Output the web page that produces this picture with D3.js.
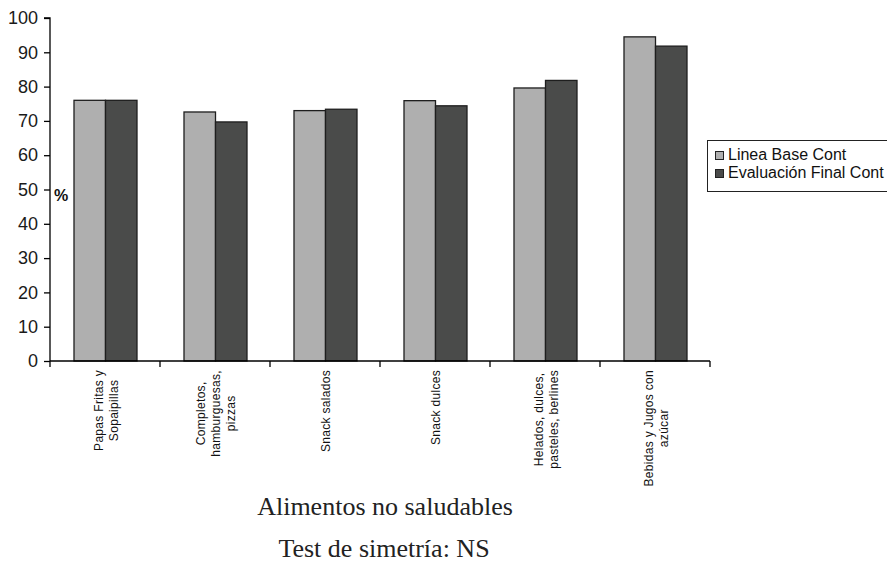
<!DOCTYPE html>
<html><head><meta charset="utf-8">
<script src="https://cdn.jsdelivr.net/npm/d3@7"></script>
<style>
html,body{margin:0;padding:0;background:#fff;}
svg{display:block;}
</style></head>
<body>
<svg id="chart" width="887" height="564"></svg>
<script>
const categories = [
  ["Papas Fritas y", "Sopaipillas"],
  ["Completos,", "hamburguesas,", "pizzas"],
  ["Snack salados"],
  ["Snack dulces"],
  ["Helados, dulces,", "pasteles, berlines"],
  ["Bebidas y Jugos con", "azúcar"]
];
const seriesNames = ["Linea Base Cont", "Evaluación Final Cont"];
const lineaBase = [76.0, 72.6, 73.0, 75.9, 79.6, 94.5];
const evaluacionFinal = [76.0, 69.7, 73.4, 74.4, 81.8, 91.8];
const yTicks = [0, 10, 20, 30, 40, 50, 60, 70, 80, 90, 100];
const colors = ["#afafaf", "#4a4b4a"];
const xTitle = "Alimentos no saludables";
const subTitle = "Test de simetría: NS";
const yLabel = "%";

const svg = d3.select("#chart");
const catKeys = categories.map((c, i) => i);
const x0 = d3.scaleBand().domain(catKeys).range([50, 710]).paddingInner(0).paddingOuter(0);
const x1 = d3.scaleBand().domain([0, 1]).range([24, 87]);
const y = d3.scaleLinear().domain([0, 100]).range([361, 18]);

const values = [lineaBase, evaluacionFinal];
const data = catKeys.map(i => ({i, vals: values.map((v, s) => ({s, v: v[i]}))}));

// bars
const g = svg.append("g");
g.selectAll("g.cat").data(data).join("g")
  .attr("class", "cat")
  .attr("transform", d => `translate(${x0(d.i)},0)`)
  .selectAll("rect").data(d => d.vals).join("rect")
  .attr("x", d => x1(d.s))
  .attr("width", x1.bandwidth())
  .attr("y", d => y(d.v))
  .attr("height", d => y(0) - y(d.v))
  .attr("fill", d => colors[d.s])
  .attr("stroke", "#1e1e1e")
  .attr("stroke-width", 1.3);

// y axis
const yAxis = svg.append("g").attr("transform", "translate(50,0)")
  .call(d3.axisLeft(y).tickValues(yTicks).tickSize(6).tickPadding(6).tickFormat(d3.format("d")));
yAxis.select(".domain").attr("stroke", "#000").attr("stroke-width", 1.3).attr("d", `M-6,${y(100)}H0V${y(0)}`);
yAxis.selectAll(".tick line").attr("stroke", "#000").attr("stroke-width", 1.3);
yAxis.selectAll(".tick text").attr("font-family", "Liberation Sans, Arial, sans-serif")
  .attr("font-size", 18).attr("fill", "#1a1a1a");

// x axis
const xAxisG = svg.append("g").attr("transform", `translate(0,${y(0)})`);
xAxisG.append("line").attr("x1", 50).attr("x2", 710).attr("y1", 0).attr("y2", 0)
  .attr("stroke", "#000").attr("stroke-width", 1.3);
const bounds = catKeys.map(i => x0(i)).concat([x0(catKeys.length - 1) + x0.bandwidth()]);
xAxisG.selectAll("line.tk").data(bounds).join("line").attr("class", "tk")
  .attr("x1", d => d).attr("x2", d => d).attr("y1", 0).attr("y2", 6)
  .attr("stroke", "#000").attr("stroke-width", 1.3);

// x labels (rotated)
const lineH = 15;
data.forEach(d => {
  const lines = categories[d.i];
  const cx = x0(d.i) + x0.bandwidth() / 2 + 1;
  const lg = svg.append("g");
  const texts = lines.map((t, k) => lg.append("text")
    .attr("font-family", "Liberation Sans, Arial, sans-serif")
    .attr("font-size", 12)
    .attr("letter-spacing", 0.3)
    .attr("fill", "#111")
    .attr("text-anchor", "middle")
    .attr("dominant-baseline", "central")
    .text(t));
  const maxLen = d3.max(texts, t => t.node().getComputedTextLength());
  const cy = 370 + maxLen / 2;
  texts.forEach((t, k) => {
    const xx = cx + (k - (lines.length - 1) / 2) * lineH;
    t.attr("transform", `translate(${xx},${cy}) rotate(-90)`);
  });
});

// % label
svg.append("text").attr("x", 54).attr("y", 201)
  .attr("font-family", "Liberation Sans, Arial, sans-serif").attr("font-size", 16)
  .attr("font-weight", "bold").attr("fill", "#111").text(yLabel);

// legend
const leg = svg.append("g");
leg.append("rect").attr("x", 707.5).attr("y", 140.5).attr("width", 200).attr("height", 51)
  .attr("fill", "#fff").attr("stroke", "#222").attr("stroke-width", 1);
seriesNames.forEach((n, s) => {
  leg.append("rect").attr("x", 715.5).attr("y", 151.5 + s * 18).attr("width", 8).attr("height", 8)
    .attr("fill", colors[s]).attr("stroke", "#222").attr("stroke-width", 1);
  leg.append("text").attr("x", 728).attr("y", 159.5 + s * 18)
    .attr("font-family", "Liberation Sans, Arial, sans-serif").attr("font-size", 16)
    .attr("fill", "#111").text(n);
});

// titles
svg.append("text").attr("x", 385).attr("y", 515).attr("text-anchor", "middle")
  .attr("font-family", "Liberation Serif, Times New Roman, serif").attr("font-size", 26)
  .attr("fill", "#222").text(xTitle);
svg.append("text").attr("x", 384).attr("y", 557).attr("text-anchor", "middle")
  .attr("font-family", "Liberation Serif, Times New Roman, serif").attr("font-size", 26)
  .attr("fill", "#222").text(subTitle);
</script>
</body></html>
